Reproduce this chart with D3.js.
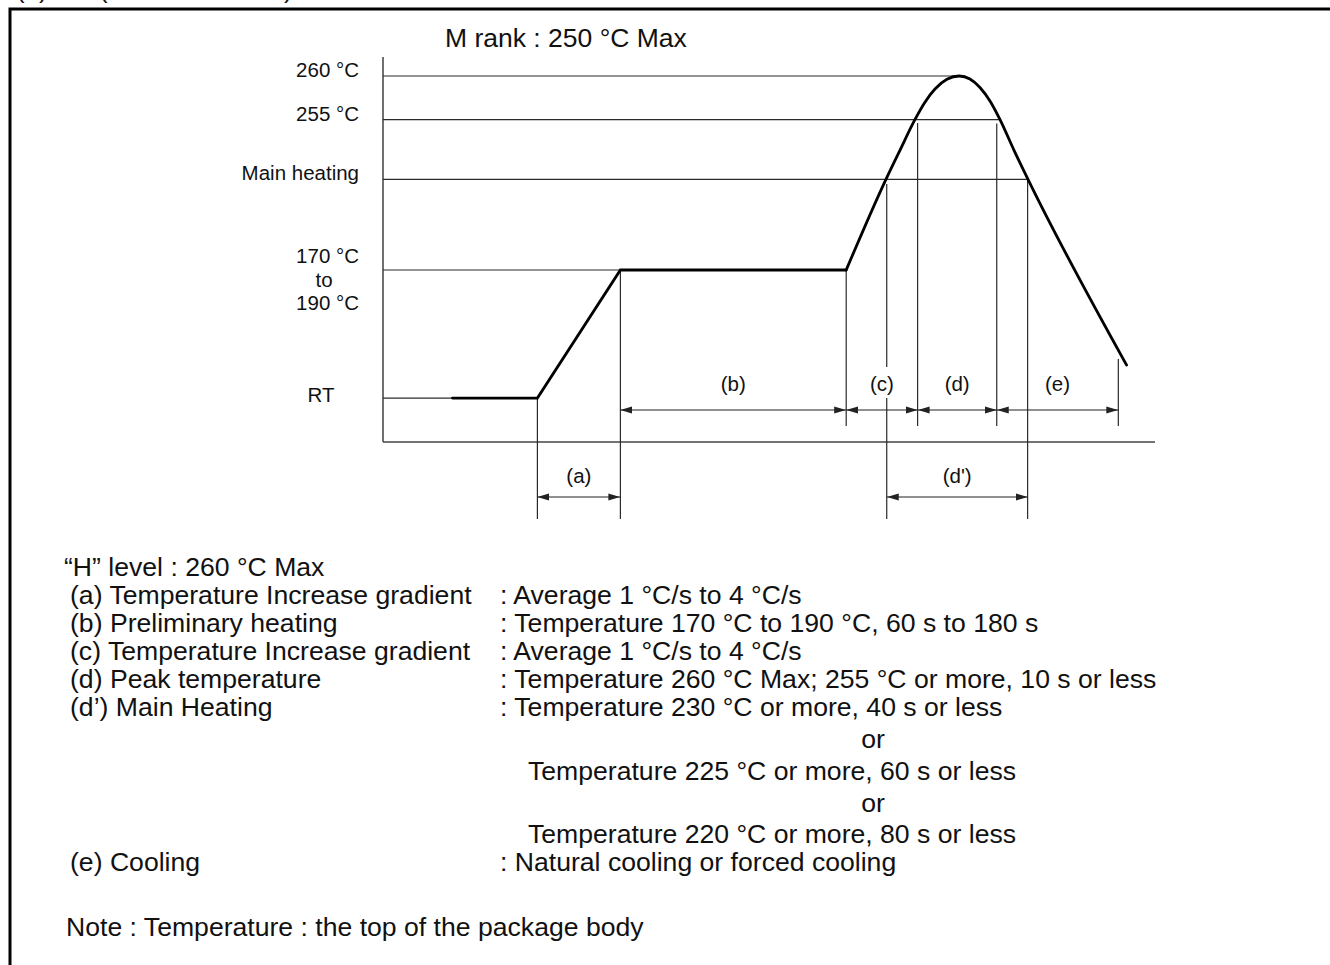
<!DOCTYPE html>
<html><head><meta charset="utf-8">
<script src="https://cdn.jsdelivr.net/npm/d3@7"></script>
<style>
body{margin:0;background:#fff}
svg{display:block}
text{font-family:"Liberation Sans",Arial,Helvetica,sans-serif;fill:#111}
</style>
</head><body>
<svg id="c" width="1330" height="965"></svg>
<script>
// ---------------- data (schematic units) ----------------
// temperature levels in schematic level units
const levelLabels = [["RT"], ["170 °C", "to", "190 °C"], ["Main heating"], ["255 °C"], ["260 °C"]];
const levelValues = [36, 141, 215.3, 264.2, 300];
// time (schematic units) where each level guide line ends
const levelLineEnd = [36, 123, 334.2, 319.7, 298.6];

// temperature profile (time, level)
const rampT     = [36, 80, 123, 240];
const rampLevel = [36, 36, 141, 141];
const peakT     = [240, 260.6, 267.9, 275.6, 280.8, 286.0, 292.2, 298.6, 304.1, 309.3, 314.5, 319.7, 326.9, 334.2, 385.3];
const peakLevel = [141, 215.3, 239.3, 264.2, 278.5, 289.3, 297.3, 300, 297.5, 290.6, 279.5, 264.2, 239.3, 215.3, 63];

// phase spans
const spanLabels = ["(a)", "(b)", "(c)", "(d)", "(e)", "(d')"];
const spanStart  = [80, 123, 240, 277, 318, 261];
const spanEnd    = [123, 240, 277, 318, 381, 334];
const spanTier   = [1, 0, 0, 0, 0, 1];   // 0 = above time axis, 1 = below

// vertical guides (time, level where they start)
const guideT        = [80, 123, 240, 261, 277, 318, 334, 381];
const guideTopLevel = [36, 141, 141, 211.5, 261.5, 261, 215.3, 68];
const guideTier     = [1, 1, 0, 1, 0, 0, 1, 0];

const titleText = "M rank : 250 °C Max";
const headerText = "“H” level : 260 °C Max";
const descLeft = ["(a) Temperature Increase gradient", "(b) Preliminary heating",
  "(c) Temperature Increase gradient", "(d) Peak temperature", "(d’) Main Heating",
  "", "", "", "", "(e) Cooling"];
const descRight = [": Average 1 °C/s to 4 °C/s",
  ": Temperature 170 °C to 190 °C, 60 s to 180 s",
  ": Average 1 °C/s to 4 °C/s",
  ": Temperature 260 °C Max; 255 °C or more, 10 s or less",
  ": Temperature 230 °C or more, 40 s or less",
  "or",
  "Temperature 225 °C or more, 60 s or less",
  "or",
  "Temperature 220 °C or more, 80 s or less",
  ": Natural cooling or forced cooling"];
const noteText = "Note : Temperature : the top of the package body";

// ---------------- drawing ----------------
const svg = d3.select("#c");
const x = d3.scaleLinear().domain([0, 400]).range([383, 1155]);
const y = d3.scaleLinear().domain([0, 300]).range([442, 76]);
const guideColor = "#2a2a2a";

// frame
svg.append("rect").attr("x", 10).attr("y", 9).attr("width", 1400).attr("height", 1100)
  .attr("fill", "none").attr("stroke", "#000").attr("stroke-width", 3);
// heading above the frame, cropped by the page edge as in the original
svg.append("text").attr("x", 16).attr("y", -2).attr("font-size", 26).text("(3)");
svg.append("text").attr("x", 99).attr("y", -2).attr("font-size", 26).text("(Infrared Reflow)");

// arrow markers
const defs = svg.append("defs");
["s", "e"].forEach(k => {
  defs.append("marker").attr("id", "ar" + k)
    .attr("markerUnits", "userSpaceOnUse")
    .attr("viewBox", "0 -4 12 8").attr("refX", 12).attr("refY", 0)
    .attr("markerWidth", 12).attr("markerHeight", 8)
    .attr("orient", k === "e" ? "auto" : "auto-start-reverse")
    .append("path").attr("d", "M0,-3.6L12,0L0,3.6Z").attr("fill", "#222");
});

// axes
const gAx = svg.append("g");
gAx.append("line").attr("x1", x(0)).attr("x2", x(0)).attr("y1", y(0)).attr("y2", y(300) - 19)
  .attr("stroke", "#333").attr("stroke-width", 1.4);
gAx.append("line").attr("x1", x(0)).attr("x2", x(400)).attr("y1", y(0)).attr("y2", y(0))
  .attr("stroke", "#444").attr("stroke-width", 1.6);

// level guide lines
svg.append("g").selectAll("line").data(levelValues).join("line")
  .attr("x1", x(0)).attr("x2", (d, i) => x(levelLineEnd[i]))
  .attr("y1", d => y(d)).attr("y2", d => y(d))
  .attr("stroke", guideColor).attr("stroke-width", 1.2);

// level labels
const gl = svg.append("g").attr("font-size", 20.5);
levelLabels.forEach((lines, i) => {
  const yy = y(levelValues[i]);
  if (lines.length === 1) {
    if (lines[0] === "RT") {
      gl.append("text").attr("x", 321).attr("y", yy + 4).attr("text-anchor", "middle").text(lines[0]);
    } else {
      gl.append("text").attr("x", 359).attr("y", yy + 1).attr("text-anchor", "end").text(lines[0]);
    }
  } else {
    gl.append("text").attr("x", 359).attr("y", yy - 7).attr("text-anchor", "end").text(lines[0]);
    gl.append("text").attr("x", 324).attr("y", yy + 17).attr("text-anchor", "middle").text(lines[1]);
    gl.append("text").attr("x", 359).attr("y", yy + 40).attr("text-anchor", "end").text(lines[2]);
  }
});

// title
svg.append("text").attr("x", 445).attr("y", 47).attr("font-size", 26.5).text(titleText);

// vertical guides
const tierBottom = [426, 519];
svg.append("g").selectAll("line").data(guideT).join("line")
  .attr("x1", d => x(d)).attr("x2", d => x(d))
  .attr("y1", (d, i) => y(guideTopLevel[i]))
  .attr("y2", (d, i) => tierBottom[guideTier[i]])
  .attr("stroke", guideColor).attr("stroke-width", 1.2);

// span arrows & labels
const tierArrowY = [410, 497];
const tierLabelY = [391, 483];
const gs = svg.append("g");
spanLabels.forEach((lab, i) => {
  const x1 = x(spanStart[i]), x2 = x(spanEnd[i]);
  const ay = tierArrowY[spanTier[i]];
  gs.append("line").attr("x1", x1).attr("x2", x2).attr("y1", ay).attr("y2", ay)
    .attr("stroke", "#222").attr("stroke-width", 1.2)
    .attr("marker-start", "url(#ars)").attr("marker-end", "url(#are)");
  const cx = (x1 + x2) / 2, ly = tierLabelY[spanTier[i]];
  gs.append("rect").attr("x", cx - 15).attr("y", ly - 24).attr("width", 30).attr("height", 31).attr("fill", "#fff");
  gs.append("text").attr("x", cx).attr("y", ly).attr("text-anchor", "middle")
    .attr("font-size", 20.5).text(lab);
});

// profile curve
const pRamp = rampT.map((t, i) => [t, rampLevel[i]]);
const pPeak = peakT.map((t, i) => [t, peakLevel[i]]);
const gp = svg.append("g").attr("fill", "none").attr("stroke", "#000").attr("stroke-width", 2.8)
  .attr("stroke-linejoin", "miter").attr("stroke-linecap", "round");
gp.append("path").attr("d", d3.line().x(d => x(d[0])).y(d => y(d[1])).curve(d3.curveLinear)(pRamp));
gp.append("path").attr("d", d3.line().x(d => x(d[0])).y(d => y(d[1])).curve(d3.curveMonotoneX)(pPeak));

// description
const gd = svg.append("g").attr("font-size", 26.6);
const rowBase = [604, 632, 660, 688, 716, 748, 780, 812, 843, 871];
gd.append("text").attr("x", 64).attr("y", 576).text(headerText);
descLeft.forEach((t, i) => {
  if (t) gd.append("text").attr("x", 70).attr("y", rowBase[i]).text(t);
});
descRight.forEach((t, i) => {
  if (t === "or") gd.append("text").attr("x", 873).attr("y", rowBase[i]).attr("text-anchor", "middle").text(t);
  else if (t.startsWith(":")) gd.append("text").attr("x", 500).attr("y", rowBase[i]).text(t);
  else gd.append("text").attr("x", 528).attr("y", rowBase[i]).text(t);
});
gd.append("text").attr("x", 66).attr("y", 936).text(noteText);
</script>
</body></html>
